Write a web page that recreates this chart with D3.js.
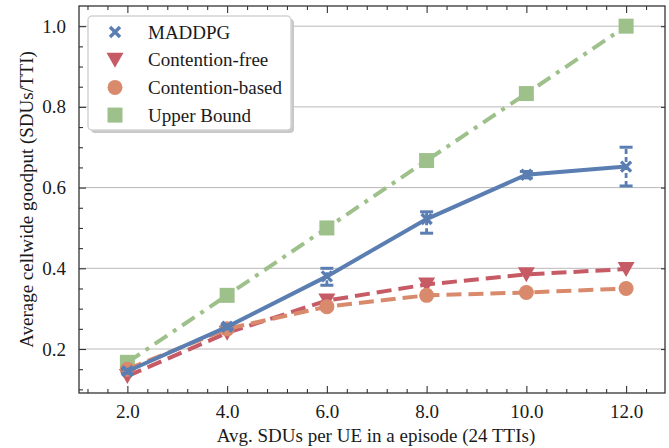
<!DOCTYPE html>
<head>
    <script src="https://cdn.jsdelivr.net/npm/d3@7"></script>
    <style>
        body { margin: 0; background: #fff; }
        text { font-family: "Liberation Serif", "DejaVu Serif", serif; fill: #1a1a1a; }
        .grid line { stroke: #b8b8b8; stroke-width: 1; }
        .frame { fill: none; stroke: #333; stroke-width: 1.3; }
    </style>
</head>
<body>
<div id="chart"></div>
<script>
    // data
    const sdus = [2, 4, 6, 8, 10, 12];
    const maddpg = [0.145, 0.255, 0.38, 0.522, 0.632, 0.652];
    const maddpgLo = [0.14, 0.25, 0.358, 0.487, 0.624, 0.604];
    const maddpgHi = [0.15, 0.26, 0.40, 0.54, 0.64, 0.70];
    const contFree = [0.133, 0.24, 0.32, 0.36, 0.385, 0.398];
    const contBased = [0.15, 0.25, 0.305, 0.333, 0.34, 0.35];
    const upperBound = [0.167, 0.333, 0.5, 0.667, 0.833, 1.0];
    const xTicks = [2, 4, 6, 8, 10, 12];
    const yTicks = [0.2, 0.4, 0.6, 0.8, 1.0];

    const W = 669, H = 448;
    const m = { left: 79, right: 4, top: 6, bottom: 55 };

    const svg = d3.select('#chart').append('svg')
        .attr('width', W).attr('height', H);

    const x = d3.scaleLinear().domain([1.03, 12.78]).range([m.left, W - m.right]);
    const y = d3.scaleLinear().domain([0.091, 1.05]).range([H - m.bottom, m.top]);

    // horizontal grid
    svg.append('g').attr('class', 'grid').selectAll('line')
        .data(yTicks).enter().append('line')
        .attr('x1', x.range()[0]).attr('x2', x.range()[1])
        .attr('y1', d => y(d)).attr('y2', d => y(d));

    // axes, ticks pointing in
    const xMinor = d3.range(1.2, 12.78, 0.4).filter(v => Math.abs(v / 2 - Math.round(v / 2)) > 0.01);
    const yMinor = d3.range(0.1, 1.05, 0.05).filter(v => Math.abs(v * 5 - Math.round(v * 5)) > 0.01);

    function axisG(axis, tx, ty) {
        const g = svg.append('g').attr('transform', `translate(${tx},${ty})`).call(axis);
        g.select('.domain').remove();
        g.selectAll('line').attr('stroke', '#333').attr('stroke-width', 1.1);
        g.selectAll('text').style('font-size', '19px').attr('fill', '#1a1a1a');
        return g;
    }
    axisG(d3.axisBottom(x).tickValues(xTicks).tickSize(-7).tickPadding(12).tickFormat(d3.format('.1f')), 0, y.range()[0]);
    axisG(d3.axisBottom(x).tickValues(xMinor).tickSize(-4).tickFormat(''), 0, y.range()[0]);
    axisG(d3.axisTop(x).tickValues(xTicks).tickSize(-7).tickFormat(''), 0, y.range()[1]);
    axisG(d3.axisTop(x).tickValues(xMinor).tickSize(-4).tickFormat(''), 0, y.range()[1]);
    axisG(d3.axisLeft(y).tickValues(yTicks).tickSize(-7).tickPadding(13).tickFormat(d3.format('.1f')), x.range()[0], 0);
    axisG(d3.axisLeft(y).tickValues(yMinor).tickSize(-4).tickFormat(''), x.range()[0], 0);
    axisG(d3.axisRight(y).tickValues(yTicks).tickSize(-4).tickFormat(''), x.range()[1], 0);

    svg.append('rect').attr('class', 'frame')
        .attr('x', x.range()[0]).attr('y', y.range()[1])
        .attr('width', x.range()[1] - x.range()[0])
        .attr('height', y.range()[0] - y.range()[1]);

    // axis titles
    svg.append('text')
        .attr('x', 376).attr('y', 442)
        .attr('text-anchor', 'middle').style('font-size', '19px')
        .text('Avg. SDUs per UE in a episode (24 TTIs)');
    svg.append('text')
        .attr('transform', `translate(33,${(y.range()[0] + y.range()[1]) / 2}) rotate(-90)`)
        .attr('text-anchor', 'middle').style('font-size', '19px')
        .text('Average cellwide goodput (SDUs/TTI)');

    const series = [
        { name: 'MADDPG', values: maddpg, color: '#5A7EB2', dash: null, marker: 'x' },
        { name: 'Contention-free', values: contFree, color: '#C65B66', dash: '15,7', marker: 'tri' },
        { name: 'Contention-based', values: contBased, color: '#D98A6C', dash: '15,7', marker: 'circle' },
        { name: 'Upper Bound', values: upperBound, color: '#9EC08B', dash: '15,7,4,7', marker: 'square' }
    ];

    function drawMarker(g, type, cx, cy, color) {
        if (type === 'square') {
            g.append('rect').attr('x', cx - 7.5).attr('y', cy - 7.5).attr('width', 15).attr('height', 15).attr('fill', color);
        } else if (type === 'circle') {
            g.append('circle').attr('cx', cx).attr('cy', cy).attr('r', 7.5).attr('fill', color);
        } else if (type === 'tri') {
            g.append('path').attr('d', `M${cx - 8.5},${cy - 7}L${cx + 8.5},${cy - 7}L${cx},${cy + 8}Z`).attr('fill', color);
        } else {
            g.append('path').attr('d', `M${cx - 5},${cy - 5}L${cx + 5},${cy + 5}M${cx - 5},${cy + 5}L${cx + 5},${cy - 5}`)
                .attr('stroke', color).attr('stroke-width', 3.4);
        }
    }

    const line = d3.line().x((d, i) => x(sdus[i])).y(d => y(d));
    const plot = svg.append('g');

    // draw back to front
    [series[3], series[1], series[2], series[0]].forEach(s => {
        const g = plot.append('g');
        g.append('path').datum(s.values)
            .attr('d', line).attr('fill', 'none')
            .attr('stroke', s.color).attr('stroke-width', 4)
            .attr('stroke-dasharray', s.dash);
        if (s.name === 'MADDPG') {
            sdus.forEach((v, i) => {
                g.append('line').attr('x1', x(v)).attr('x2', x(v))
                    .attr('y1', y(maddpgLo[i])).attr('y2', y(maddpgHi[i]))
                    .attr('stroke', s.color).attr('stroke-width', 2.8).attr('stroke-dasharray', '5,3');
                [maddpgLo[i], maddpgHi[i]].forEach(e => g.append('line')
                    .attr('x1', x(v) - 6.5).attr('x2', x(v) + 6.5)
                    .attr('y1', y(e)).attr('y2', y(e))
                    .attr('stroke', s.color).attr('stroke-width', 3));
            });
        }
        s.values.forEach((v, i) => drawMarker(g, s.marker, x(sdus[i]), y(v), s.color));
    });

    // legend
    const lg = svg.append('g').attr('transform', 'translate(88,16)');
    lg.append('rect').attr('x', 3).attr('y', 3).attr('width', 203).attr('height', 114)
        .attr('rx', 4).attr('fill', '#c8c8c8');
    lg.append('rect').attr('width', 203).attr('height', 114).attr('rx', 4)
        .attr('fill', '#fff').attr('stroke', '#d4d4d4').attr('stroke-width', 1.5);
    series.forEach((s, i) => {
        const cy = 16 + i * 27.7;
        drawMarker(lg, s.marker, 27, cy, s.color);
        lg.append('text').attr('x', 60).attr('y', cy).attr('dy', '0.35em')
            .style('font-size', '19px').text(s.name);
    });
</script>
</body>
